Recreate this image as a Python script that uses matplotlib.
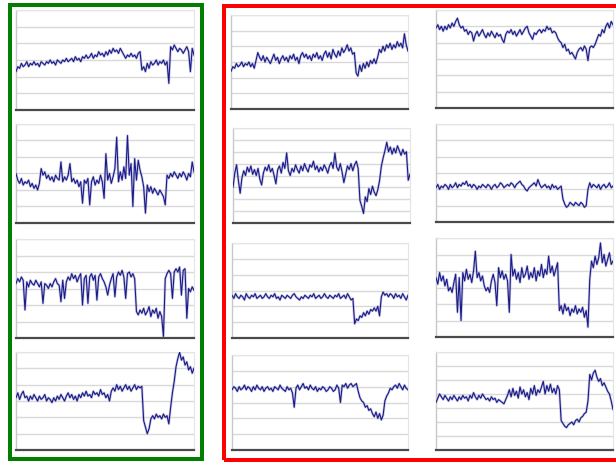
import matplotlib
matplotlib.use("Agg")
import matplotlib.pyplot as plt
from matplotlib.patches import Rectangle
import numpy as np

# ---- series values (in gridline units, 0 = bottom axis) ----
g1 = [2.3,2.6,2.5,2.8,2.6,2.7,2.9,2.6,2.8,2.7,
      2.9,2.7,2.8,2.6,2.9,2.8,2.7,2.9,2.8,3.0,
      2.8,2.9,2.7,3.0,2.9,2.8,3.0,2.9,3.1,2.9,
      3.0,3.1,2.9,3.2,3.0,3.1,2.9,3.2,3.1,3.3,
      3.1,3.2,3.4,3.1,3.3,3.2,3.5,3.3,3.4,3.2,
      3.5,3.3,3.6,3.4,3.7,3.5,3.6,3.4,3.7,3.5,
      3.3,3.1,3.3,3.2,3.4,3.2,3.3,3.1,3.4,3.5,
      2.4,2.6,2.3,2.8,2.5,2.9,2.7,2.8,3.0,2.7,
      2.9,2.8,3.0,2.7,2.9,1.6,3.8,3.6,3.9,3.7,
      3.5,3.7,3.6,3.4,3.6,3.8,3.5,2.3,3.7,3.3]
g2 = [3.0,2.6,2.4,2.7,2.3,2.5,2.4,2.6,2.2,2.4,
      2.1,2.3,2.0,2.4,3.3,2.9,3.1,2.7,2.9,2.6,
      2.8,2.5,2.9,2.7,2.6,3.7,2.5,2.8,2.6,2.9,
      3.6,2.5,2.7,2.4,2.6,2.2,2.5,1.2,2.6,2.4,
      2.7,1.1,2.5,2.8,2.3,2.6,2.4,2.9,2.5,1.5,
      4.2,2.6,3.0,2.4,2.8,3.3,5.2,2.5,3.1,2.6,
      3.4,2.7,5.3,2.9,3.6,1.0,3.9,2.6,3.8,3.2,
      2.8,2.2,0.6,2.3,1.9,2.2,1.8,2.1,1.9,1.7,
      2.0,1.8,1.6,1.1,2.9,2.7,3.0,2.8,3.1,2.9,
      2.7,3.0,2.8,3.1,2.9,2.6,3.0,2.8,3.7,3.1]
g3 = [3.3,3.6,3.4,3.7,3.5,1.7,3.4,3.1,3.5,3.3,
      3.2,3.5,3.3,3.1,3.4,2.1,3.3,3.2,3.0,3.3,
      3.1,3.4,3.6,3.3,3.2,2.2,3.5,2.4,3.4,3.7,
      3.5,3.9,3.6,3.8,3.4,3.7,3.9,2.0,3.6,3.8,
      2.1,3.7,3.9,3.5,3.8,2.3,3.7,3.9,3.6,3.4,
      3.1,2.6,3.2,3.6,3.9,2.5,3.7,4.0,3.8,4.1,
      3.7,2.4,3.9,4.0,3.7,3.9,3.6,1.6,1.4,1.7,
      1.5,1.8,1.4,1.6,1.9,1.3,1.7,1.5,1.8,1.2,
      1.6,1.3,0.1,3.6,3.9,4.1,3.9,2.4,4.0,4.2,
      4.0,4.3,2.6,4.1,4.2,1.2,3.0,2.8,3.1,2.9]
g4 = [3.2,3.5,3.1,3.4,3.6,3.2,3.3,3.0,3.3,3.1,
      3.4,3.2,3.0,3.3,3.1,3.2,3.4,3.0,3.2,3.1,
      2.9,3.2,3.0,3.3,3.1,3.4,3.2,3.0,3.3,3.5,
      3.2,3.4,3.1,3.3,3.0,3.4,3.2,3.5,3.3,3.6,
      3.3,3.4,3.2,3.6,3.4,3.5,3.3,3.7,3.4,3.5,
      3.2,3.4,3.0,3.6,3.8,3.6,4.0,3.7,3.9,3.6,
      3.8,4.0,3.7,3.9,3.6,3.8,4.0,3.7,3.9,3.8,
      3.9,1.8,1.4,1.0,1.3,1.9,2.1,1.9,2.2,2.0,
      2.1,1.9,2.2,2.0,2.1,1.6,2.6,3.5,4.2,5.1,
      5.6,6.0,5.5,5.7,5.2,5.4,4.9,5.1,4.7,5.0]
r1a = [2.4,2.7,2.6,2.9,2.7,2.8,3.0,2.7,2.9,2.8,
       3.0,2.7,2.9,2.6,3.1,3.6,3.3,3.1,3.4,3.0,
       3.3,3.1,2.9,3.2,3.5,3.1,3.3,2.9,3.2,3.4,
       3.1,3.3,3.0,3.4,3.2,3.5,3.1,3.3,2.9,3.4,
       3.6,3.3,3.5,3.2,3.4,3.1,3.5,3.3,3.6,3.2,
       3.4,3.1,3.5,3.7,3.3,3.6,3.2,3.8,3.5,3.3,
       3.7,3.4,3.9,3.6,3.8,4.1,3.7,3.9,3.5,3.6,
       2.3,2.1,2.8,2.4,2.9,2.6,3.0,2.7,3.1,2.9,
       3.2,2.9,3.3,3.8,3.6,4.0,3.7,4.1,3.9,4.2,
       3.8,4.1,3.9,4.3,4.0,4.2,3.9,4.8,4.1,3.7]
r1b = [3.0,4.2,4.9,3.6,2.5,3.8,4.4,4.0,4.7,4.3,
       4.8,4.1,4.5,4.0,4.6,3.7,3.2,4.2,4.7,4.4,
       4.9,4.3,4.6,4.0,3.3,4.5,4.8,4.2,5.1,4.6,
       5.9,4.4,4.0,4.6,4.3,4.9,4.5,4.2,4.8,4.4,
       5.0,4.6,4.3,4.9,4.7,5.2,4.5,4.8,4.3,4.7,
       4.4,4.9,4.6,4.2,4.8,5.1,4.6,5.9,4.7,4.4,
       5.0,4.3,3.4,4.1,4.8,4.5,5.0,4.4,4.9,5.2,
       4.6,1.9,1.4,0.8,2.2,1.8,2.9,2.4,3.1,2.6,
       2.3,2.8,3.6,4.8,5.5,6.1,6.8,6.0,6.4,5.8,
       6.3,5.9,6.5,6.1,5.7,6.2,5.8,6.0,3.6,4.1]
r1c = [2.7,2.5,2.8,2.6,2.5,2.7,2.6,2.4,2.8,2.6,
       2.5,2.7,2.6,2.8,2.5,2.6,2.7,2.5,2.6,2.8,
       2.6,2.5,2.7,2.6,2.8,2.5,2.6,2.4,2.7,2.6,
       2.5,2.7,2.6,2.5,2.7,2.8,2.6,2.5,2.4,2.6,
       2.5,2.7,2.6,2.5,2.7,2.6,2.8,2.5,2.6,2.7,
       2.5,2.6,2.8,2.6,2.5,2.7,2.6,2.5,2.7,2.6,
       2.8,2.5,2.6,2.7,2.5,2.8,2.6,2.4,2.5,0.9,
       1.2,1.1,1.4,1.3,1.6,1.4,1.7,1.5,1.8,1.7,
       1.9,1.7,2.0,1.4,2.6,2.9,2.7,2.8,2.6,2.8,
       2.7,2.5,2.8,2.6,2.7,2.5,2.8,2.6,2.4,2.7]
r1d = [3.8,4.0,3.9,3.7,4.0,3.8,3.9,4.1,3.8,4.0,
       3.9,3.7,4.0,3.8,4.1,3.9,3.8,4.0,3.7,3.9,
       4.0,3.8,3.9,3.7,4.0,3.9,3.8,4.1,3.9,3.8,
       3.7,4.0,3.8,3.9,3.6,2.7,3.9,4.1,3.8,4.0,
       4.2,3.9,4.0,3.8,4.1,3.9,3.8,4.0,3.7,3.9,
       3.8,4.0,3.9,3.7,3.8,4.0,3.9,3.7,3.8,4.1,
       3.9,3.0,4.1,4.0,4.2,3.9,4.1,4.2,4.0,4.1,
       4.2,3.7,3.3,3.1,3.0,2.7,2.8,2.5,2.6,2.3,
       2.1,2.4,2.0,2.3,1.9,2.2,3.1,3.4,3.6,3.9,
       3.8,4.0,4.1,3.9,4.2,4.0,3.8,4.1,3.9,3.8]
r2a = [4.9,5.1,4.8,5.0,4.7,5.0,4.8,5.1,4.9,5.2,
       5.0,5.3,5.5,5.1,4.9,5.0,4.7,4.8,4.5,4.7,
       4.6,4.1,4.5,4.7,4.4,4.6,4.8,4.5,4.3,4.6,
       4.4,4.7,4.5,4.3,4.6,4.4,4.5,4.2,4.0,4.5,
       4.7,4.6,4.8,4.5,4.7,4.4,4.6,4.8,4.5,4.7,
       4.9,5.0,4.6,4.4,4.2,4.6,4.5,4.7,4.8,4.6,
       4.8,4.7,5.0,4.8,4.9,4.6,4.7,4.6,4.3,4.1,
       4.0,3.7,3.9,3.5,3.6,3.3,3.4,3.2,3.0,3.4,
       3.6,3.7,3.5,3.8,3.6,2.9,3.7,3.8,3.7,3.9,
       4.2,4.5,4.4,4.8,4.6,5.0,5.2,4.9,5.3,5.1]
r2b = [2.1,2.3,2.0,2.2,2.1,2.3,2.2,2.0,2.3,2.1,
       2.2,2.4,2.1,2.3,2.2,2.4,2.3,2.5,2.2,2.3,
       2.1,2.3,2.2,2.0,2.2,2.1,2.3,2.2,2.1,2.3,
       2.2,2.0,2.2,2.3,2.1,2.2,2.4,2.3,2.1,2.2,
       2.3,2.2,2.4,2.3,2.1,2.3,2.4,2.5,2.3,2.2,
       2.0,1.9,2.1,2.2,2.3,2.4,2.2,2.6,2.3,2.1,
       2.2,2.3,2.1,2.2,2.0,2.3,2.1,2.2,2.0,2.1,
       2.2,1.4,1.1,0.9,1.0,1.2,1.1,1.0,1.2,1.1,
       1.0,1.2,1.1,0.9,1.0,2.0,2.4,2.1,2.3,2.2,
       2.1,2.3,2.0,2.2,2.3,2.1,2.2,2.4,2.1,2.2]
r2c = [3.6,3.2,3.9,3.4,3.7,3.1,3.5,2.8,3.0,2.7,
       3.3,3.8,1.5,3.6,1.0,3.9,3.4,4.1,3.5,3.8,
       3.3,4.0,5.2,3.6,3.9,3.4,3.7,3.1,2.8,3.0,
       2.7,3.4,3.8,3.3,1.9,4.2,3.6,4.0,3.5,3.8,
       3.4,1.5,5.0,3.7,4.1,3.5,3.9,3.3,4.2,3.6,
       3.8,4.3,3.5,3.9,3.6,4.2,3.4,4.0,3.7,4.4,
       3.6,4.1,3.8,4.9,3.9,4.3,3.7,4.1,4.5,1.6,
       1.9,1.4,2.0,1.6,1.8,1.3,1.7,1.5,1.9,1.4,
       1.7,1.5,1.8,1.2,1.6,0.6,3.5,4.6,4.2,4.9,
       4.4,4.8,5.7,4.5,5.0,4.3,4.7,5.1,4.4,4.6]
r2d = [3.4,3.7,4.0,3.8,3.6,3.9,3.7,3.5,3.8,3.6,
       3.9,3.7,3.5,3.8,3.6,3.9,3.7,3.8,3.5,3.9,
       3.7,4.1,3.8,3.6,3.9,3.7,4.0,3.8,3.6,3.7,
       3.5,3.8,3.6,3.7,3.4,3.6,3.5,3.4,3.3,3.6,
       3.9,4.3,3.8,4.4,3.9,4.2,3.7,4.5,4.0,4.3,
       3.8,4.1,3.6,4.4,4.0,4.6,3.9,4.3,4.1,4.5,
       4.9,4.0,4.6,4.2,4.7,4.1,4.4,4.0,4.6,4.3,
       2.1,1.9,1.7,1.6,1.8,1.9,2.0,1.8,2.1,2.2,
       2.0,2.3,2.4,2.6,2.7,3.5,5.4,5.0,5.5,5.7,
       5.2,4.9,5.1,4.6,4.8,4.5,4.2,4.0,3.5,2.9]

series = [g1, g2, g3, g4, r1a, r1b, r1c, r1d, r2a, r2b, r2c, r2d]
grid_counts = [6, 6, 6, 6, 6, 8, 6, 6, 6, 6, 6, 7]

# ---- layout (pixels: x0, x1, y_top, y_bottom) ----
W, H = 616, 462
boxes = [(16, 194, 10, 110), (16, 194, 124, 223), (16, 194, 239, 338), (16, 194, 352, 450),
         (231, 408, 15, 109), (233, 410, 128, 223), (232, 408, 243, 338), (232, 408, 355, 450),
         (436, 613, 10, 108), (436, 613, 124, 222), (436, 613, 238, 337), (436, 613, 352, 450)]

fig = plt.figure(figsize=(W / 100, H / 100), dpi=100)
fig.patch.set_facecolor("white")

for vals, n, (x0, x1, yt, yb) in zip(series, grid_counts, boxes):
    ax = fig.add_axes([x0 / W, 1 - yb / H, (x1 - x0) / W, (yb - yt) / H])
    x = np.arange(len(vals))
    ax.set_xlim(0, len(vals) - 1)
    ax.set_ylim(0, n)
    for k in range(1, n + 1):
        ax.axhline(k, color="#d9d9d9", lw=1.0, zorder=1)
    ax.plot(x, vals, color="#9090c8", lw=1.8, alpha=0.5, zorder=2,
            solid_joinstyle="round")
    ax.plot(x, vals, color="#1a1a88", lw=0.8, zorder=3)
    ax.set_xticks([])
    ax.set_yticks([])
    for side in ("top", "right"):
        ax.spines[side].set_color("#e4e4e4")
        ax.spines[side].set_linewidth(0.8)
    ax.spines["left"].set_color("#c8c8c8")
    ax.spines["left"].set_linewidth(1.0)
    ax.spines["bottom"].set_color("#4a4a4a")
    ax.spines["bottom"].set_linewidth(1.6)

# ---- group frames ----
lw_pt = 4 * 72 / 100
fig.patches.append(Rectangle((10 / W, 1 - 459 / H), (202 - 10) / W, (459 - 5) / H,
                             transform=fig.transFigure, fill=False,
                             edgecolor="#008000", lw=lw_pt))
fig.patches.append(Rectangle((224 / W, 1 - 460 / H), (660 - 224) / W, (460 - 5.5) / H,
                             transform=fig.transFigure, fill=False,
                             edgecolor="#ff0000", lw=lw_pt, clip_on=False))

fig.savefig("out.png", dpi=100)
